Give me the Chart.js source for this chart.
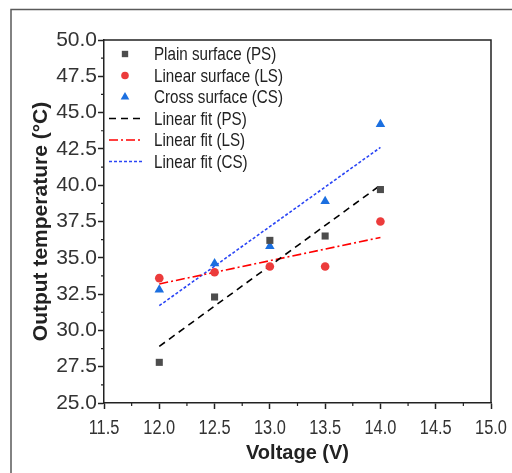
<!DOCTYPE html>
<html>
<head>
<meta charset="utf-8">
<script src="https://cdn.jsdelivr.net/npm/chart.js@4/dist/chart.umd.min.js"></script>
<style>
  html, body { margin: 0; padding: 0; background: #fff; }
  #wrap { width: 512px; height: 473px; }
</style>
</head>
<body>
<div id="wrap"><canvas id="chart" width="512" height="473"></canvas></div>
<script>
// measured data
const voltage = [12.0, 12.5, 13.0, 13.5, 14.0];
const plainSurface = [27.8, 32.3, 36.2, 36.5, 39.7];
const linearSurface = [33.6, 34.0, 34.4, 34.4, 37.5];
const crossSurface = [32.8, 34.6, 35.8, 38.9, 44.2];

// fitted lines, end points
const fitVoltage = [12.0, 14.0];
const fitPS = [28.9, 40.0];
const fitLS = [33.2, 36.4];
const fitCS = [31.7, 42.6];

const labels = ['Plain surface (PS)', 'Linear surface (LS)', 'Cross surface (CS)',
  'Linear fit (PS)', 'Linear fit (LS)', 'Linear fit (CS)'];

const SANS = '"Liberation Sans", Arial, sans-serif';
const NARROW = 0.82; // the figure uses a narrow face, squeeze the regular one

const toPoints = (xs, ys) => xs.map((x, i) => ({ x: x, y: ys[i] }));

function scatterSet(label, ys, style, color, radius) {
  return {
    label: label,
    data: toPoints(voltage, ys),
    pointStyle: style,
    pointRadius: radius,
    backgroundColor: color,
    borderColor: color,
    borderWidth: 0,
    showLine: false
  };
}

function fitSet(label, ys, color, dash) {
  return {
    label: label,
    data: toPoints(fitVoltage, ys),
    showLine: true,
    borderColor: color,
    borderWidth: 1.6,
    borderDash: dash,
    pointRadius: 0,
    fill: false
  };
}

function narrowText(ctx, text, x, y) {
  ctx.save();
  ctx.translate(x, y);
  ctx.scale(NARROW, 1);
  ctx.fillText(text, 0, 0);
  ctx.restore();
}

// frame around the figure + box around the plot + minor ticks + x labels
const framePlugin = {
  id: 'frame',
  beforeDraw(chart) {
    const ctx = chart.ctx;
    ctx.save();
    ctx.strokeStyle = '#5a5a5a';
    ctx.lineWidth = 1.5;
    ctx.beginPath();
    ctx.moveTo(11, 473);
    ctx.lineTo(11, 9.5);
    ctx.lineTo(512, 9.5);
    ctx.stroke();
    ctx.restore();
  },
  afterDraw(chart) {
    const ctx = chart.ctx;
    const a = chart.chartArea;
    const xs = chart.scales.x;
    const ys = chart.scales.y;
    ctx.save();
    ctx.strokeStyle = '#222';
    ctx.lineWidth = 1.5;
    ctx.beginPath();
    ctx.moveTo(a.left, a.top);
    ctx.lineTo(a.right, a.top);
    ctx.lineTo(a.right, a.bottom);
    ctx.stroke();
    // minor ticks half way between the major ones
    ctx.lineWidth = 1.2;
    ctx.beginPath();
    for (let v = xs.min + 0.25; v < xs.max; v += 0.5) {
      const px = xs.getPixelForValue(v);
      ctx.moveTo(px, a.bottom);
      ctx.lineTo(px, a.bottom + 3);
    }
    for (let v = ys.min + 1.25; v < ys.max; v += 2.5) {
      const py = ys.getPixelForValue(v);
      ctx.moveTo(a.left, py);
      ctx.lineTo(a.left - 3, py);
    }
    ctx.stroke();
    // x tick labels in narrow type
    ctx.font = '20px ' + SANS;
    ctx.fillStyle = '#333';
    ctx.textAlign = 'center';
    ctx.textBaseline = 'alphabetic';
    xs.ticks.forEach(t => {
      narrowText(ctx, t.value.toFixed(1), xs.getPixelForValue(t.value), a.bottom + 31);
    });
    ctx.restore();
  }
};

// legend drawn inside the plot area, top left
const legendPlugin = {
  id: 'innerLegend',
  afterDatasetsDraw(chart) {
    const ctx = chart.ctx;
    const a = chart.chartArea;
    const x0 = a.left + 21;
    const textX = a.left + 50;
    const y0 = a.top + 14;
    const rowH = 21.5;
    ctx.save();
    ctx.font = '18.5px ' + SANS;
    ctx.textBaseline = 'middle';
    ctx.fillStyle = '#222';
    chart.data.datasets.forEach((ds, i) => {
      const y = y0 + i * rowH;
      if (ds.showLine) {
        ctx.save();
        ctx.strokeStyle = ds.borderColor;
        ctx.lineWidth = ds.borderWidth;
        ctx.setLineDash(ds.borderDash);
        ctx.beginPath();
        ctx.moveTo(a.left + 5, y);
        ctx.lineTo(a.left + 38, y);
        ctx.stroke();
        ctx.restore();
      } else {
        ctx.save();
        ctx.fillStyle = ds.backgroundColor;
        Chart.helpers.drawPoint(ctx, {
          pointStyle: ds.pointStyle,
          radius: ds.pointRadius - 0.5,
          borderWidth: 0
        }, x0, y);
        ctx.restore();
      }
      narrowText(ctx, ds.label, textX, y + 1);
    });
    ctx.restore();
  }
};

const config = {
  type: 'scatter',
  data: {
    datasets: [
      scatterSet(labels[0], plainSurface, 'rect', '#4d4d4d', 5),
      scatterSet(labels[1], linearSurface, 'circle', '#ec3b3b', 4.3),
      scatterSet(labels[2], crossSurface, 'triangle', '#1b6fe0', 5.5),
      fitSet(labels[3], fitPS, '#000000', [7, 5]),
      fitSet(labels[4], fitLS, '#ff0000', [9, 3, 2, 3]),
      fitSet(labels[5], fitCS, '#2a45f5', [3, 2])
    ]
  },
  options: {
    responsive: false,
    animation: false,
    devicePixelRatio: 1,
    layout: { padding: { top: 40, right: 21, bottom: 0, left: 0 } },
    plugins: {
      legend: { display: false },
      tooltip: { enabled: false }
    },
    scales: {
      x: {
        type: 'linear',
        min: 11.5,
        max: 15,
        afterFit(scale) { scale.height = 70; },
        ticks: {
          stepSize: 0.5,
          display: false
        },
        grid: {
          drawOnChartArea: false,
          tickLength: 6,
          tickColor: '#222',
          tickWidth: 1.5
        },
        border: { color: '#222', width: 1.5 },
        title: {
          display: true,
          text: 'Voltage (V)',
          color: '#222',
          font: { family: SANS, size: 20, weight: 'bold' },
          padding: { top: 0, bottom: 8 }
        }
      },
      y: {
        type: 'linear',
        min: 25,
        max: 50,
        afterFit(scale) { scale.width = 104; },
        ticks: {
          stepSize: 2.5,
          padding: 1,
          color: '#333',
          font: { family: SANS, size: 21 },
          callback: v => v.toFixed(1)
        },
        grid: {
          drawOnChartArea: false,
          tickLength: 6,
          tickColor: '#222',
          tickWidth: 1.5
        },
        border: { color: '#222', width: 1.5 },
        title: {
          display: true,
          text: 'Output temperature (°C)',
          color: '#222',
          font: { family: SANS, size: 21, weight: 'bold' },
          padding: { top: 29, bottom: 0 }
        }
      }
    }
  },
  plugins: [framePlugin, legendPlugin]
};

new Chart(document.getElementById('chart').getContext('2d'), config);
</script>
</body>
</html>
